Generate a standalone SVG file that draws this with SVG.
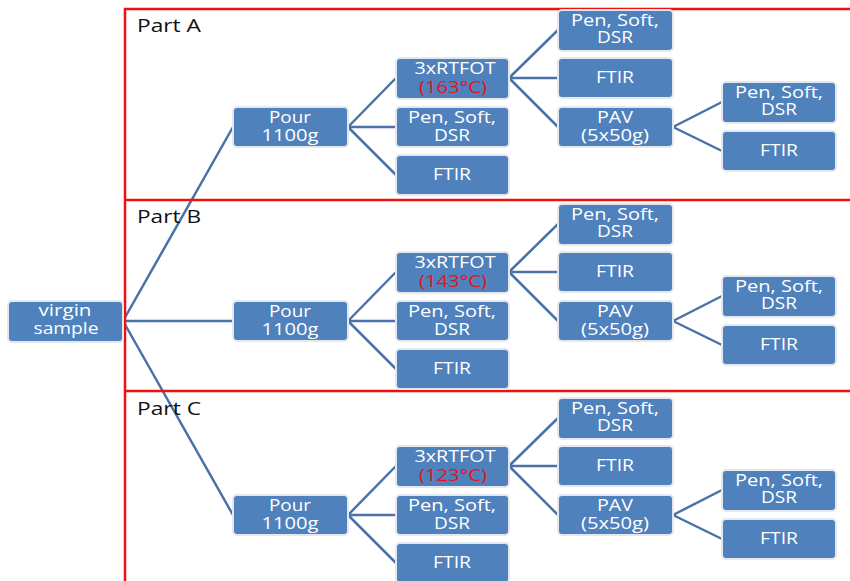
<svg xmlns="http://www.w3.org/2000/svg" width="850" height="581" viewBox="0 0 850 581">
<style>
.bx{fill:#4f81bd;stroke:#e4e8ee;stroke-width:2}
.t{fill:#fff;font-family:"Open Sans","DejaVu Sans",sans-serif;font-size:16px;text-anchor:middle}
.r{fill:#e8101a}
.cn{stroke:#4a72a8;stroke-width:2.5;fill:none}
.red{stroke:#f01010;stroke-width:2.5;fill:none}
.pl{fill:#111;font-family:"Open Sans","DejaVu Sans",sans-serif;font-size:18px}
</style>
<rect width="850" height="581" fill="#fff"/>
<defs>
<g id="part">
<g class="cn">
<path d="M348,127 L396,78 M348,127 L396,127 M348,127 L396,175"/>
<path d="M509,78 L558,30 M509,78 L558,78 M509,78 L558,127"/>
<path d="M673,127 L722,102 M673,127 L722,151"/>
</g>
<g><rect class="bx" x="233" y="107" width="115" height="40" rx="4"/><text class="t" x="290" y="123" textLength="42" lengthAdjust="spacingAndGlyphs">Pour</text><text class="t" x="290" y="141" textLength="57" lengthAdjust="spacingAndGlyphs">1100g</text></g>
<g><rect class="bx" x="396" y="107" width="113" height="40" rx="4"/><text class="t" x="452" y="123" textLength="88" lengthAdjust="spacingAndGlyphs">Pen, Soft,</text><text class="t" x="452" y="141" textLength="36" lengthAdjust="spacingAndGlyphs">DSR</text></g>
<g><rect class="bx" x="396" y="155" width="113" height="40" rx="4"/><text class="t" x="452" y="180" textLength="38" lengthAdjust="spacingAndGlyphs">FTIR</text></g>
<g><rect class="bx" x="558" y="10" width="115" height="41" rx="4"/><text class="t" x="615" y="26" textLength="88" lengthAdjust="spacingAndGlyphs">Pen, Soft,</text><text class="t" x="615" y="43" textLength="36" lengthAdjust="spacingAndGlyphs">DSR</text></g>
<g><rect class="bx" x="558" y="58" width="115" height="40" rx="4"/><text class="t" x="615" y="83" textLength="38" lengthAdjust="spacingAndGlyphs">FTIR</text></g>
<g><rect class="bx" x="558" y="107" width="115" height="40" rx="4"/><text class="t" x="615" y="123" textLength="36" lengthAdjust="spacingAndGlyphs">PAV</text><text class="t" x="615" y="141" textLength="68" lengthAdjust="spacingAndGlyphs">(5x50g)</text></g>
<g><rect class="bx" x="722" y="82" width="114" height="41" rx="4"/><text class="t" x="779" y="98" textLength="88" lengthAdjust="spacingAndGlyphs">Pen, Soft,</text><text class="t" x="779" y="115" textLength="36" lengthAdjust="spacingAndGlyphs">DSR</text></g>
<g><rect class="bx" x="722" y="131" width="114" height="40" rx="4"/><text class="t" x="779" y="156" textLength="38" lengthAdjust="spacingAndGlyphs">FTIR</text></g>
<rect class="bx" x="396" y="58" width="113" height="41" rx="4"/>
<text class="t" x="455" y="74" textLength="81" lengthAdjust="spacingAndGlyphs">3xRTFOT</text>
</g>
</defs>
<g id="connectors" class="cn">
<path d="M123,321 L233,127 M123,321 L233,321 M123,321 L233,515"/>
</g>
<g id="frames" class="red">
<path d="M125,581 V9 H850 M125,200 H850 M125,391 H850"/>
</g>
<g id="virgin"><rect class="bx" x="8" y="301" width="115" height="41" rx="4"/><text class="t" x="65" y="316" textLength="53" lengthAdjust="spacingAndGlyphs">virgin</text><text class="t" x="66" y="334" textLength="65" lengthAdjust="spacingAndGlyphs">sample</text></g>
<g id="partA"><use href="#part"/><text class="t r" x="453" y="93" textLength="68" lengthAdjust="spacingAndGlyphs">(163°C)</text><text class="pl" x="137" y="32" textLength="64" lengthAdjust="spacingAndGlyphs">Part A</text></g>
<g id="partB" transform="translate(0,194)"><use href="#part"/><text class="t r" x="453" y="93" textLength="68" lengthAdjust="spacingAndGlyphs">(143°C)</text><text class="pl" x="137" y="29" textLength="64" lengthAdjust="spacingAndGlyphs">Part B</text></g>
<g id="partC" transform="translate(0,388)"><use href="#part"/><text class="t r" x="453" y="93" textLength="68" lengthAdjust="spacingAndGlyphs">(123°C)</text><text class="pl" x="137" y="27" textLength="64" lengthAdjust="spacingAndGlyphs">Part C</text></g>
</svg>
